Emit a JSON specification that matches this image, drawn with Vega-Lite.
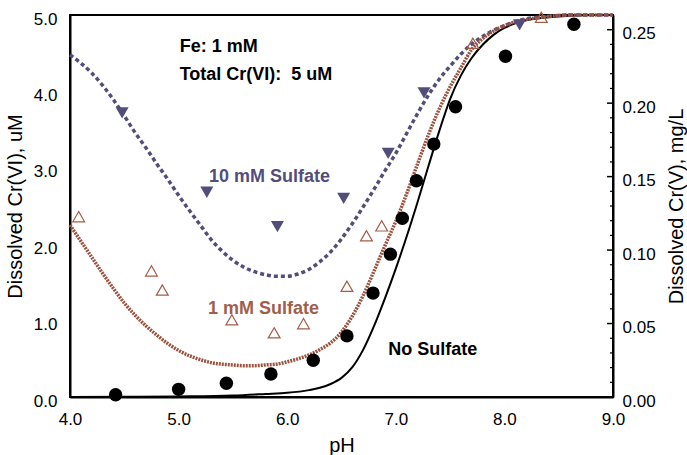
{
  "$schema": "https://vega.github.io/schema/vega-lite/v6.json",
  "width": 543,
  "height": 382,
  "autosize": "none",
  "padding": {"left": 70, "top": 15, "right": 74, "bottom": 58},
  "background": "white",
  "config": {
    "font": "Liberation Sans",
    "view": {"stroke": "black", "strokeWidth": 2},
    "axis": {"grid": false, "ticks": false, "domainColor": "black", "domainWidth": 2, "labelColor": "black", "labelFontSize": 17, "labelFont": "Liberation Sans", "titleColor": "black", "titleFontSize": 20, "titleFontWeight": "normal", "titleFont": "Liberation Sans", "labelOverlap": false, "labelFlush": false}
  },
  "datasets": {
    "curve_none": [
      {"pH": 4.0, "v": 0.0}, {"pH": 4.5, "v": 0.003}, {"pH": 5.0, "v": 0.008}, {"pH": 5.5, "v": 0.02},
      {"pH": 5.8, "v": 0.04}, {"pH": 6.0, "v": 0.055}, {"pH": 6.2, "v": 0.09}, {"pH": 6.3, "v": 0.12},
      {"pH": 6.4, "v": 0.17}, {"pH": 6.5, "v": 0.25}, {"pH": 6.6, "v": 0.39}, {"pH": 6.7, "v": 0.62},
      {"pH": 6.8, "v": 0.93}, {"pH": 6.9, "v": 1.29}, {"pH": 7.0, "v": 1.68}, {"pH": 7.1, "v": 2.10},
      {"pH": 7.2, "v": 2.55}, {"pH": 7.3, "v": 3.02}, {"pH": 7.4, "v": 3.48}, {"pH": 7.5, "v": 3.90},
      {"pH": 7.6, "v": 4.21}, {"pH": 7.7, "v": 4.44}, {"pH": 7.8, "v": 4.61}, {"pH": 7.9, "v": 4.74},
      {"pH": 8.0, "v": 4.83}, {"pH": 8.1, "v": 4.89}, {"pH": 8.2, "v": 4.93}, {"pH": 8.4, "v": 4.97},
      {"pH": 8.6, "v": 4.99}, {"pH": 8.8, "v": 5.0}, {"pH": 9.0, "v": 5.0}
    ],
    "curve_1": [
      {"pH": 4.0, "v": 2.25}, {"pH": 4.1, "v": 2.04}, {"pH": 4.2, "v": 1.83}, {"pH": 4.3, "v": 1.62},
      {"pH": 4.4, "v": 1.42}, {"pH": 4.5, "v": 1.23}, {"pH": 4.6, "v": 1.07}, {"pH": 4.7, "v": 0.93},
      {"pH": 4.8, "v": 0.81}, {"pH": 4.9, "v": 0.70}, {"pH": 5.0, "v": 0.61}, {"pH": 5.1, "v": 0.54},
      {"pH": 5.2, "v": 0.49}, {"pH": 5.3, "v": 0.45}, {"pH": 5.4, "v": 0.43}, {"pH": 5.5, "v": 0.42},
      {"pH": 5.6, "v": 0.41}, {"pH": 5.7, "v": 0.41}, {"pH": 5.8, "v": 0.42}, {"pH": 5.9, "v": 0.43},
      {"pH": 6.0, "v": 0.46}, {"pH": 6.1, "v": 0.50}, {"pH": 6.2, "v": 0.55}, {"pH": 6.3, "v": 0.62},
      {"pH": 6.4, "v": 0.71}, {"pH": 6.5, "v": 0.85}, {"pH": 6.6, "v": 1.06}, {"pH": 6.7, "v": 1.33},
      {"pH": 6.8, "v": 1.65}, {"pH": 6.9, "v": 1.98}, {"pH": 7.0, "v": 2.30}, {"pH": 7.1, "v": 2.66},
      {"pH": 7.2, "v": 3.05}, {"pH": 7.3, "v": 3.43}, {"pH": 7.4, "v": 3.77}, {"pH": 7.5, "v": 4.06},
      {"pH": 7.6, "v": 4.31}, {"pH": 7.7, "v": 4.55}, {"pH": 7.8, "v": 4.69}, {"pH": 7.9, "v": 4.79},
      {"pH": 8.0, "v": 4.86}, {"pH": 8.1, "v": 4.91}, {"pH": 8.2, "v": 4.94}, {"pH": 8.4, "v": 4.98},
      {"pH": 8.6, "v": 5.0}, {"pH": 9.0, "v": 5.0}
    ],
    "curve_10": [
      {"pH": 4.0, "v": 4.48}, {"pH": 4.1, "v": 4.37}, {"pH": 4.2, "v": 4.24}, {"pH": 4.3, "v": 4.08},
      {"pH": 4.4, "v": 3.89}, {"pH": 4.5, "v": 3.68}, {"pH": 4.6, "v": 3.46}, {"pH": 4.7, "v": 3.26},
      {"pH": 4.8, "v": 3.05}, {"pH": 4.9, "v": 2.85}, {"pH": 5.0, "v": 2.64}, {"pH": 5.1, "v": 2.44},
      {"pH": 5.2, "v": 2.25}, {"pH": 5.3, "v": 2.06}, {"pH": 5.4, "v": 1.91}, {"pH": 5.5, "v": 1.79},
      {"pH": 5.6, "v": 1.70}, {"pH": 5.7, "v": 1.64}, {"pH": 5.8, "v": 1.60}, {"pH": 5.9, "v": 1.58},
      {"pH": 6.0, "v": 1.58}, {"pH": 6.1, "v": 1.61}, {"pH": 6.2, "v": 1.67}, {"pH": 6.3, "v": 1.77},
      {"pH": 6.4, "v": 1.90}, {"pH": 6.5, "v": 2.07}, {"pH": 6.6, "v": 2.27}, {"pH": 6.7, "v": 2.49},
      {"pH": 6.8, "v": 2.72}, {"pH": 6.9, "v": 2.96}, {"pH": 7.0, "v": 3.19}, {"pH": 7.1, "v": 3.45},
      {"pH": 7.2, "v": 3.71}, {"pH": 7.3, "v": 3.95}, {"pH": 7.4, "v": 4.16}, {"pH": 7.5, "v": 4.33},
      {"pH": 7.6, "v": 4.49}, {"pH": 7.7, "v": 4.62}, {"pH": 7.8, "v": 4.72}, {"pH": 7.9, "v": 4.80},
      {"pH": 8.0, "v": 4.86}, {"pH": 8.1, "v": 4.91}, {"pH": 8.2, "v": 4.95}, {"pH": 8.4, "v": 4.98},
      {"pH": 8.6, "v": 5.0}, {"pH": 9.0, "v": 5.0}
    ],
    "pts_none": [
      {"pH": 4.42, "v": 0.03}, {"pH": 5.0, "v": 0.10}, {"pH": 5.44, "v": 0.18}, {"pH": 5.85, "v": 0.30},
      {"pH": 6.24, "v": 0.48}, {"pH": 6.55, "v": 0.80}, {"pH": 6.79, "v": 1.36}, {"pH": 6.95, "v": 1.87},
      {"pH": 7.06, "v": 2.34}, {"pH": 7.19, "v": 2.83}, {"pH": 7.35, "v": 3.31}, {"pH": 7.55, "v": 3.80},
      {"pH": 8.01, "v": 4.46}, {"pH": 8.64, "v": 4.88}
    ],
    "pts_1": [
      {"pH": 4.08, "v": 2.36}, {"pH": 4.75, "v": 1.65}, {"pH": 4.85, "v": 1.40}, {"pH": 5.49, "v": 1.01},
      {"pH": 5.88, "v": 0.84}, {"pH": 6.15, "v": 0.96}, {"pH": 6.55, "v": 1.45}, {"pH": 6.73, "v": 2.11},
      {"pH": 6.87, "v": 2.24}, {"pH": 7.71, "v": 4.63}, {"pH": 8.34, "v": 4.97}
    ],
    "pts_10": [
      {"pH": 4.48, "v": 3.72}, {"pH": 5.26, "v": 2.68}, {"pH": 5.91, "v": 2.23}, {"pH": 6.52, "v": 2.60},
      {"pH": 6.93, "v": 3.19}, {"pH": 7.26, "v": 3.98}, {"pH": 8.14, "v": 4.87}
    ],
    "labels": [
      {"pH": 5.01, "v": 4.575, "text": "Fe: 1 mM", "series": "info"},
      {"pH": 5.01, "v": 4.215, "text": "Total Cr(VI):\u00a0 5 uM", "series": "info"},
      {"pH": 5.28, "v": 2.886, "text": "10 mM Sulfate", "series": "10 mM"},
      {"pH": 5.27, "v": 1.158, "text": "1 mM Sulfate", "series": "1 mM"},
      {"pH": 6.93, "v": 0.609, "text": "No Sulfate", "series": "none"}
    ],
    "ticks_x": [
      {"pH": 4.0, "kind": "major"}, {"pH": 4.5, "kind": "minor"}, {"pH": 5.0, "kind": "major"}, {"pH": 5.5, "kind": "minor"},
      {"pH": 6.0, "kind": "major"}, {"pH": 6.5, "kind": "minor"}, {"pH": 7.0, "kind": "major"}, {"pH": 7.5, "kind": "minor"},
      {"pH": 8.0, "kind": "major"}, {"pH": 8.5, "kind": "minor"}, {"pH": 9.0, "kind": "major"}
    ],
    "ticks_y": [
      {"v": 0.0, "kind": "major"}, {"v": 0.5, "kind": "minor"}, {"v": 1.0, "kind": "major"}, {"v": 1.5, "kind": "minor"},
      {"v": 2.0, "kind": "major"}, {"v": 2.5, "kind": "minor"}, {"v": 3.0, "kind": "major"}, {"v": 3.5, "kind": "minor"},
      {"v": 4.0, "kind": "major"}, {"v": 4.5, "kind": "minor"}, {"v": 5.0, "kind": "major"}
    ],
    "ticks_r": [
      {"mg": 0.0, "kind": "major"}, {"mg": 0.01, "kind": "minor"}, {"mg": 0.02, "kind": "minor"}, {"mg": 0.03, "kind": "minor"}, {"mg": 0.04, "kind": "minor"},
      {"mg": 0.05, "kind": "major"}, {"mg": 0.06, "kind": "minor"}, {"mg": 0.07, "kind": "minor"}, {"mg": 0.08, "kind": "minor"}, {"mg": 0.09, "kind": "minor"},
      {"mg": 0.10, "kind": "major"}, {"mg": 0.11, "kind": "minor"}, {"mg": 0.12, "kind": "minor"}, {"mg": 0.13, "kind": "minor"}, {"mg": 0.14, "kind": "minor"},
      {"mg": 0.15, "kind": "major"}, {"mg": 0.16, "kind": "minor"}, {"mg": 0.17, "kind": "minor"}, {"mg": 0.18, "kind": "minor"}, {"mg": 0.19, "kind": "minor"},
      {"mg": 0.20, "kind": "major"}, {"mg": 0.21, "kind": "minor"}, {"mg": 0.22, "kind": "minor"}, {"mg": 0.23, "kind": "minor"}, {"mg": 0.24, "kind": "minor"},
      {"mg": 0.25, "kind": "major"}
    ],
    "frame": [
      {"pH": 4, "mg": 0}, {"pH": 9, "mg": 0.26}
    ]
  },
  "layer": [
    {
      "encoding": {
        "x": {
          "field": "pH", "type": "quantitative",
          "scale": {"domain": [4, 9], "nice": false, "zero": false},
          "axis": {
            "orient": "bottom", "title": "pH",
            "values": [4, 5, 6, 7, 8, 9], "format": ".1f",
            "labelPadding": 14, "titlePadding": 8
          }
        },
        "y": {
          "field": "v", "type": "quantitative",
          "scale": {"domain": [0, 5], "nice": false},
          "axis": {
            "orient": "left", "title": "Dissolved Cr(VI), uM",
            "values": [0, 1, 2, 3, 4, 5], "format": ".1f",
            "labelPadding": 13, "labelOffset": 4, "titlePadding": 8
          }
        }
      },
      "layer": [
        {"data": {"name": "ticks_x"}, "transform": [{"filter": "datum.kind === 'major'"}],
         "mark": {"type": "rule", "color": "#000000", "strokeWidth": 1.5},
         "encoding": {"y": {"datum": 0, "type": "quantitative"}, "y2": {"datum": 0.105}}},
        {"data": {"name": "ticks_x"}, "transform": [{"filter": "datum.kind === 'minor'"}],
         "mark": {"type": "rule", "color": "#000000", "strokeWidth": 1.5},
         "encoding": {"y": {"datum": 0, "type": "quantitative"}, "y2": {"datum": 0.065}}},
        {"data": {"name": "ticks_x"}, "transform": [{"filter": "datum.kind === 'major'"}],
         "mark": {"type": "rule", "color": "#000000", "strokeWidth": 1.5},
         "encoding": {"y": {"datum": 5, "type": "quantitative"}, "y2": {"datum": 4.895}}},
        {"data": {"name": "ticks_x"}, "transform": [{"filter": "datum.kind === 'minor'"}],
         "mark": {"type": "rule", "color": "#000000", "strokeWidth": 1.5},
         "encoding": {"y": {"datum": 5, "type": "quantitative"}, "y2": {"datum": 4.935}}},
        {"data": {"name": "ticks_y"}, "transform": [{"filter": "datum.kind === 'major'"}],
         "mark": {"type": "rule", "color": "#000000", "strokeWidth": 1.5},
         "encoding": {"x": {"datum": 4, "type": "quantitative"}, "x2": {"datum": 4.074}}},
        {"data": {"name": "ticks_y"}, "transform": [{"filter": "datum.kind === 'minor'"}],
         "mark": {"type": "rule", "color": "#000000", "strokeWidth": 1.5},
         "encoding": {"x": {"datum": 4, "type": "quantitative"}, "x2": {"datum": 4.046}}},
        {"data": {"name": "curve_none"}, "mark": {"type": "line", "color": "black", "strokeWidth": 2, "interpolate": "monotone"}, "encoding": {}},
        {"data": {"name": "curve_10"}, "mark": {"type": "line", "color": "#524e7b", "strokeWidth": 3.5, "strokeDash": [4, 3], "interpolate": "monotone"}, "encoding": {}},
        {"data": {"name": "curve_1"}, "mark": {"type": "line", "color": "#9a543f", "strokeWidth": 3.5, "strokeDash": [2, 1], "interpolate": "monotone"}, "encoding": {}},
        {"data": {"name": "pts_none"}, "mark": {"type": "point", "shape": "circle", "filled": true, "color": "black", "size": 180, "opacity": 1}},
        {"data": {"name": "pts_1"}, "mark": {"type": "point", "shape": "triangle-up", "filled": false, "fill": "white", "fillOpacity": 0, "stroke": "#a15e49", "strokeWidth": 1.2, "size": 140, "opacity": 1}},
        {"data": {"name": "pts_10"}, "mark": {"type": "point", "shape": "triangle-down", "filled": true, "color": "#524e7b", "size": 170, "opacity": 1}},
        {
          "data": {"name": "labels"},
          "mark": {"type": "text", "align": "left", "baseline": "middle", "fontWeight": "bold", "fontSize": 18, "font": "Liberation Sans"},
          "encoding": {
            "text": {"field": "text"},
            "color": {"field": "series", "type": "nominal", "legend": null,
              "scale": {"domain": ["info", "10 mM", "1 mM", "none"], "range": ["black", "#524e7b", "#a15e49", "black"]}}
          }
        }
      ]
    },
    {
      "encoding": {
        "y": {
          "field": "mg", "type": "quantitative",
          "scale": {"domain": [0, 0.26], "nice": false},
          "axis": {
            "orient": "right", "title": "Dissolved Cr(V), mg/L",
            "titleAngle": -90, "titleBaseline": "top",
            "values": [0, 0.05, 0.1, 0.15, 0.2, 0.25], "format": ".2f",
            "labelPadding": 9, "labelOffset": 4, "titlePadding": 11
          }
        }
      },
      "layer": [
        {"data": {"name": "frame"}, "mark": {"type": "point", "opacity": 0},
         "encoding": {"x": {"field": "pH", "type": "quantitative", "axis": null}}},
        {"data": {"name": "ticks_r"}, "transform": [{"filter": "datum.kind === 'major'"}],
         "mark": {"type": "rule", "color": "#000000", "strokeWidth": 1.5},
         "encoding": {"x": {"datum": 9, "type": "quantitative", "axis": null}, "x2": {"datum": 8.945}}},
        {"data": {"name": "ticks_r"}, "transform": [{"filter": "datum.kind === 'minor'"}],
         "mark": {"type": "rule", "color": "#000000", "strokeWidth": 1.2},
         "encoding": {"x": {"datum": 9, "type": "quantitative", "axis": null}, "x2": {"datum": 8.972}}}
      ]
    }
  ],
  "resolve": {"scale": {"y": "independent"}, "axis": {"x": "independent"}}
}
